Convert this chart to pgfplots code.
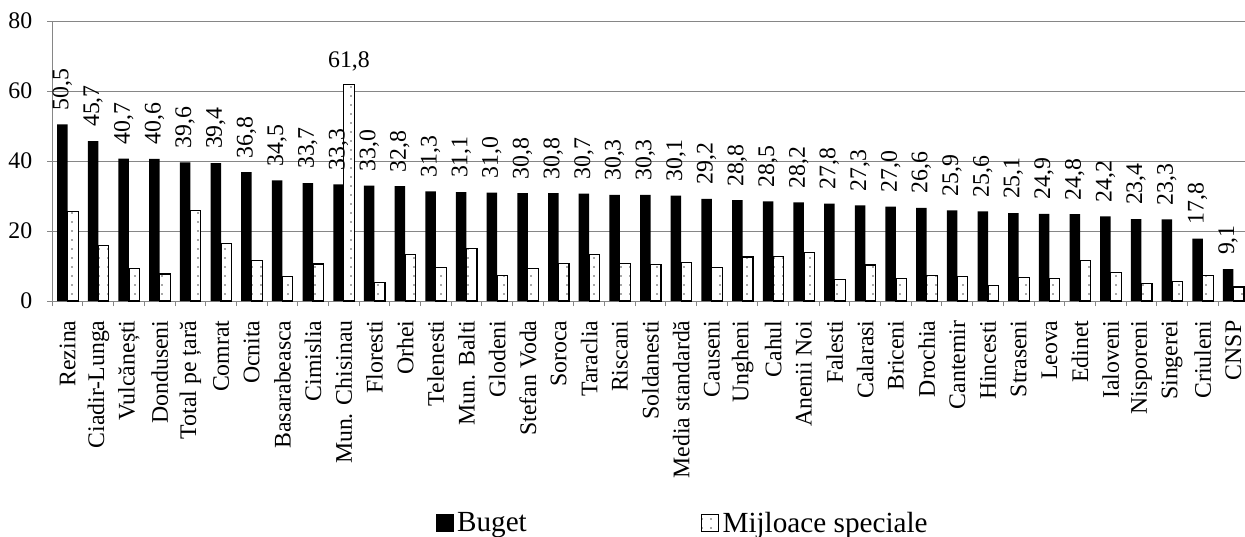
\documentclass[border=0pt]{standalone}
\usepackage{fontspec}
\setmainfont{Liberation Serif}
\usepackage{pgfplots}
\pgfplotsset{compat=1.18}
\usepackage{pgfplotstable}
\usetikzlibrary{patterns}

% sparse dot fill used for the "Mijloace speciale" bars
\pgfdeclarepatternformonly{sparsedots}{\pgfqpoint{-1bp}{-1bp}}{\pgfqpoint{1bp}{1bp}}{\pgfqpoint{9bp}{9bp}}%
  {\pgfpathcircle{\pgfqpoint{0bp}{0bp}}{0.9bp}\pgfusepath{fill}}

\definecolor{axgray}{RGB}{134,134,134}
\definecolor{dotgray}{RGB}{80,80,80}

% i = category index, buget = Buget, spec = Mijloace speciale
\pgfplotstableread{
i  buget spec
0  50.5  25.5
1  45.7  15.8
2  40.7  9.3
3  40.6  7.7
4  39.6  25.9
5  39.4  16.5
6  36.8  11.5
7  34.5  6.9
8  33.7  10.6
9  33.3  61.8
10 33.0  5.4
11 32.8  13.4
12 31.3  9.5
13 31.1  14.9
14 31.0  7.2
15 30.8  9.3
16 30.8  10.7
17 30.7  13.2
18 30.3  10.7
19 30.3  10.4
20 30.1  11.1
21 29.2  9.6
22 28.8  12.6
23 28.5  12.7
24 28.2  13.9
25 27.8  6.1
26 27.3  10.3
27 27.0  6.5
28 26.6  7.3
29 25.9  7.1
30 25.6  4.4
31 25.1  6.7
32 24.9  6.5
33 24.8  11.6
34 24.2  8.1
35 23.4  5.1
36 23.3  5.6
37 17.8  7.4
38 9.1   4.0
}\ratedata

\begin{document}
\begin{tikzpicture}
\path[use as bounding box] (-52.3bp,-236bp) rectangle (1192.7bp,301bp);
\begin{axis}[
  at={(0,0)}, anchor=south west,
  scale only axis, width=1196.5bp, height=280bp,
  font=\fontsize{23.8bp}{28bp}\selectfont,
  xmin=-0.5, xmax=38.5, ymin=0, ymax=80,
  ytick={0,20,...,80},
  ymajorgrids, grid style={axgray, line width=1bp},
  axis x line*=bottom, axis y line*=left,
  axis line style={axgray, line width=1bp},
  tick align=outside, major tick length=5bp, minor tick length=5bp,
  tick style={axgray, line width=1bp},
  xtick={0,...,38}, major x tick style={draw=none},
  minor xtick={-0.5,0.5,...,38.5},
  xticklabels={Rezina, Ciadir-Lunga, Vulcănești, Donduseni, Total pe țară, Comrat, Ocnita, Basarabeasca, Cimislia, Mun. Chisinau, Floresti, Orhei, Telenesti, Mun. Balti, Glodeni, Stefan Voda, Soroca, Taraclia, Riscani, Soldanesti, Media standardă, Causeni, Ungheni, Cahul, Anenii Noi, Falesti, Calarasi, Briceni, Drochia, Cantemir, Hincesti, Straseni, Leova, Edinet, Ialoveni, Nisporeni, Singerei, Criuleni, CNSP},
  xticklabel style={yshift=-11bp, rotate=90, anchor=east, black},
  yticklabel={\pgfmathprintnumber{\tick}\hspace*{11.5bp}},
  yticklabel style={anchor=east, black},
  /pgf/number format/assume math mode=true,
  ybar, bar width=10.5bp,
  legend style={
    draw=none, fill=none, legend columns=2,
    at={(0.3207,-0.792)}, anchor=west,
    font=\fontsize{29.2bp}{33bp}\selectfont,
    inner sep=0pt, nodes={inner sep=0pt},
    /tikz/every odd column/.append style={column sep=3.5bp},
    /tikz/every even column/.append style={column sep=174bp},
  },
  legend image code/.code={\draw[#1] (0bp,-8.5bp) rectangle (17bp,8.5bp);},
]
\addplot[fill=black, draw=none, bar shift=-5.25bp, point meta=y,
  nodes near coords={\pgfmathprintnumber[fixed,fixed zerofill,precision=1,use comma,assume math mode=true]{\pgfplotspointmeta}},
  every node near coord/.append style={rotate=90, anchor=west, inner xsep=14bp, inner ysep=0bp, black}]
  table[x=i, y=buget] {\ratedata};
\addlegendentry{Buget}
\addplot[fill=white, draw=black, line width=1.2bp, bar shift=5.25bp,
  postaction={pattern=sparsedots, pattern color=dotgray}]
  table[x=i, y=spec] {\ratedata};
\addlegendentry{Mijloace speciale}
% value label above the Mun. Chisinau special-funds bar
\addplot[forget plot, draw=none, fill=none, bar shift=5.25bp, point meta=y,
  nodes near coords={\pgfmathprintnumber[fixed,fixed zerofill,precision=1,use comma,assume math mode=true]{\pgfplotspointmeta}},
  every node near coord/.append style={anchor=south, inner ysep=13bp, black}]
  coordinates {(9,61.8)};
\end{axis}
\end{tikzpicture}
\end{document}
